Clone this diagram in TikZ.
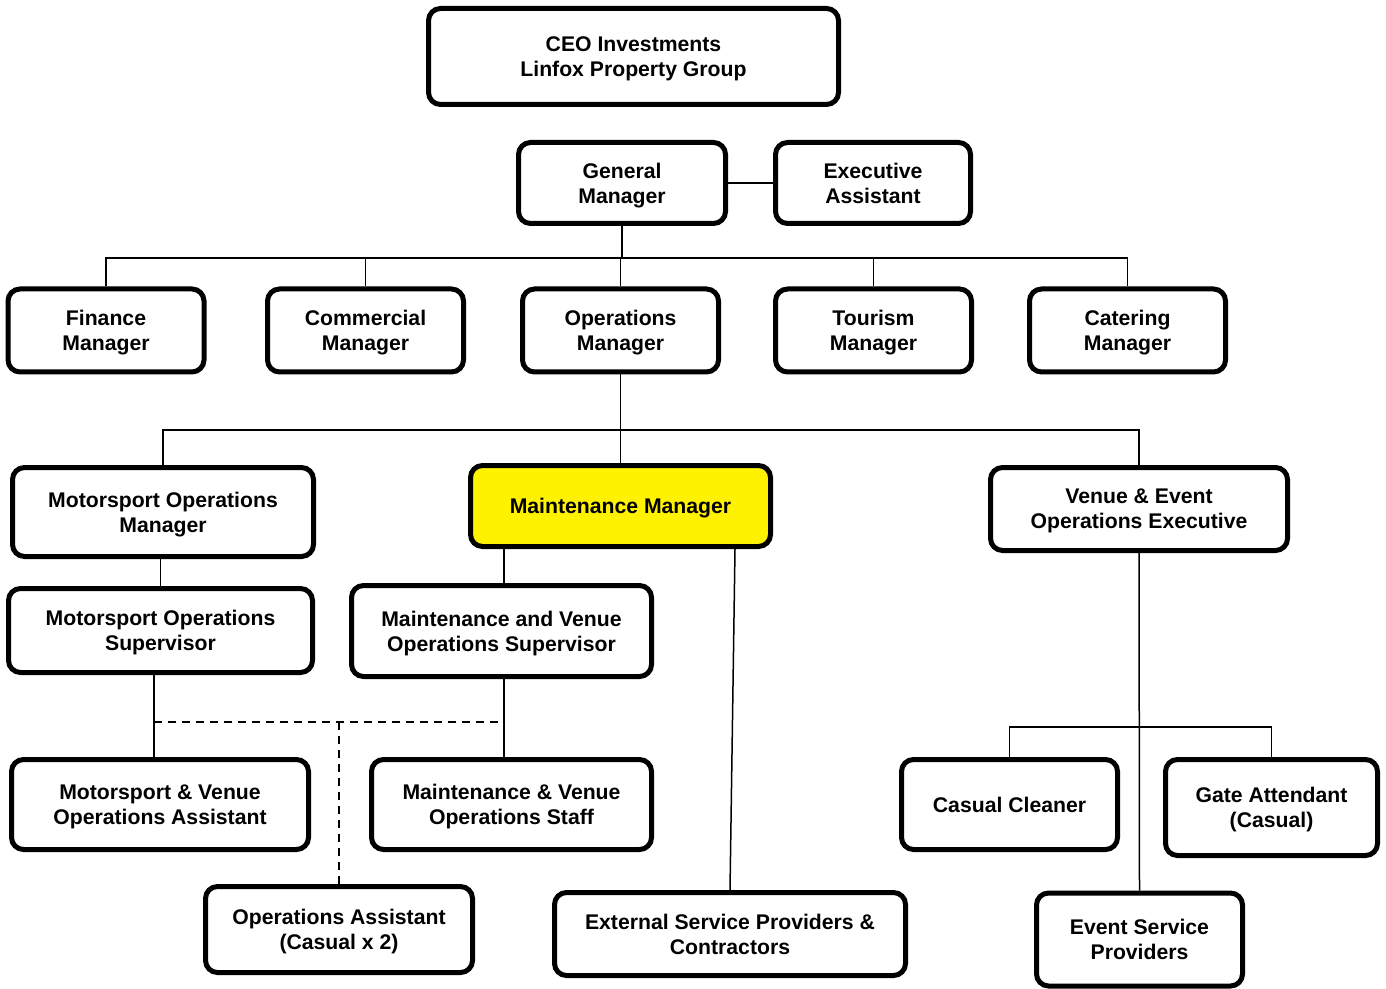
\documentclass[tikz,border=0pt]{standalone}
\usepackage{fontspec}
\setmainfont{Liberation Sans}
\usepackage{tikz}

\begin{document}
\begin{tikzpicture}[x=0.5pt,y=-0.5pt]
    \tikzstyle{post}=[rectangle, rounded corners=6pt, draw, line width=2.5pt, align=center, inner sep=0pt, text depth=0pt, font=\bfseries\fontsize{10.6}{12.5}\selectfont]
    \tikzstyle{highlight}=[post, fill=yellow]
    \tikzstyle{link}=[line width=0.75pt]
    \tikzstyle{casual}=[link, dash pattern=on 4pt off 3pt]
    \useasboundingbox (0,0) rectangle (1386,989);
    \node[post, minimum width=205pt, minimum height=48pt] (ceo) at (633.5,56.5) {CEO Investments\\Linfox Property Group};
    \node[post, minimum width=103.5pt, minimum height=40.5pt] (gm) at (622,183) {General\\Manager};
    \node[post, minimum width=97.5pt, minimum height=40.5pt] (ea) at (873,183) {Executive\\Assistant};
    \node[post, minimum width=98pt, minimum height=41.5pt] (fin) at (106,330.5) {Finance\\Manager};
    \node[post, minimum width=98pt, minimum height=41.5pt] (com) at (365.5,330.5) {Commercial\\Manager};
    \node[post, minimum width=98pt, minimum height=41.5pt] (ops) at (620.5,330.5) {Operations\\Manager};
    \node[post, minimum width=98pt, minimum height=41.5pt] (tour) at (873.5,330.5) {Tourism\\Manager};
    \node[post, minimum width=98pt, minimum height=41.5pt] (cat) at (1127.5,330.5) {Catering\\Manager};
    \node[post, minimum width=150.5pt, minimum height=44.5pt] (msom) at (163,512) {Motorsport Operations\\Manager};
    \node[highlight, minimum width=150pt, minimum height=40.5pt] (mm) at (620.5,506) {Maintenance Manager};
    \node[post, minimum width=148.5pt, minimum height=41.5pt] (veoe) at (1139,509) {Venue \& Event\\Operations Executive};
    \node[post, minimum width=152pt, minimum height=42pt] (msos) at (160.5,630.5) {Motorsport Operations\\Supervisor};
    \node[post, minimum width=150pt, minimum height=45.5pt] (mvos) at (501.5,631) {Maintenance and Venue\\Operations Supervisor};
    \node[post, minimum width=148.5pt, minimum height=45pt] (mvoa) at (160,804.5) {Motorsport \& Venue\\Operations Assistant};
    \node[post, minimum width=140pt, minimum height=45pt] (mvst) at (511.5,804.5) {Maintenance \& Venue\\Operations Staff};
    \node[post, minimum width=133.5pt, minimum height=43pt] (opa) at (339,929.5) {Operations Assistant\\(Casual x 2)};
    \node[post, minimum width=175.5pt, minimum height=41.5pt] (esp) at (730,934) {External Service Providers \&\\Contractors};
    \node[post, minimum width=108pt, minimum height=45pt] (cc) at (1009.5,804.5) {Casual Cleaner};
    \node[post, minimum width=106pt, minimum height=48pt] (ga) at (1271.5,807.5) {Gate Attendant\\(Casual)};
    \node[post, minimum width=103pt, minimum height=46.5pt] (evs) at (1139.5,939.5) {Event Service\\Providers};
    \coordinate (topbus) at (620,258);
    \coordinate (midbus) at (620,430);
    \coordinate (lowbus) at (1139,727);
    \coordinate (casualleft) at (154,722);
    \coordinate (casualright) at (504,722);
    \draw[link] (gm) -- (ea);
    \draw[link] (fin.north) |- (topbus) -| (cat.north);
    \draw[link] (gm.south) -- (gm.south |- topbus);
    \foreach \m in {com,ops,tour}
        \draw[link] (\m.north) -- (\m.north |- topbus);
    \draw[link] (msom.north) |- (midbus) -| (veoe.north);
    \draw[link] (ops.south) -- (mm.north);
    \draw[link] (msos.north) -- (msos.north |- msom.south);
    \draw[link] (msos.south -| casualleft) -- (mvoa.north -| casualleft);
    \draw[link] (mm.south -| casualright) -- (mvos.north -| casualright);
    \draw[link] (mvos.south -| casualright) -- (mvst.north -| casualright);
    \draw[casual] (casualleft) -- (casualright);
    \draw[casual] (opa.north |- casualleft) -- (opa.north);
    \draw[link] ([xshift=57.25pt]mm.south) -- (esp.north);
    \draw[link] (veoe.south) -- (evs.north);
    \draw[link] (cc.north) |- (lowbus) -| (ga.north);
\end{tikzpicture}
\end{document}
